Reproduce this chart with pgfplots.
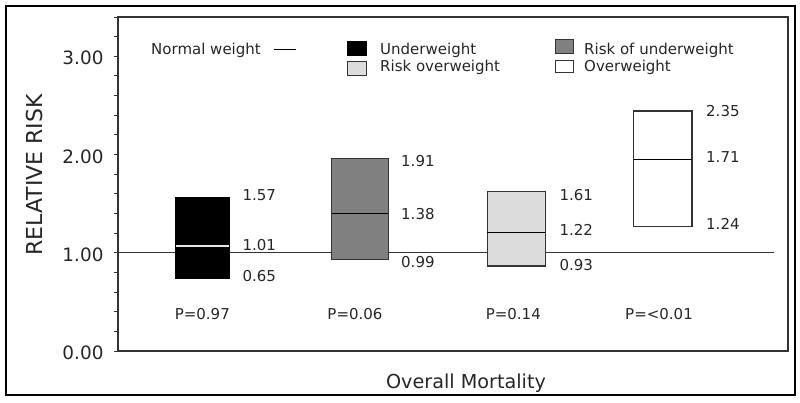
\documentclass[border=0pt]{standalone}
\usepackage{pgfplots}
\pgfplotsset{compat=1.18}
\usepackage{fontspec}
\setmainfont{DejaVu Sans}
\definecolor{axcol}{HTML}{333333}
\definecolor{midgray}{HTML}{808080}
\definecolor{lightgray}{HTML}{DCDCDC}
\begin{document}
\begin{tikzpicture}
\begin{axis}[
  name=ax,
  scale only axis,
  width=670pt, height=334pt,
  xmin=0, xmax=670, ymin=0, ymax=3.4,
  xtick=\empty,
  ytick={0,1,2,3},
  minor ytick={0.2,0.4,0.6,0.8,1.2,1.4,1.6,1.8,2.2,2.4,2.6,2.8,3.2,3.4},
  yticklabels={0.00,1.00,2.00,3.00},
  ytick pos=left,
  tick align=outside,
  major tick length=4pt, minor tick length=4pt,
  tick style={axcol, line width=1pt},
  axis line style={axcol, line width=1.3pt},
  /pgf/number format/assume math mode=true,
  yticklabel style={font=\fontsize{18.4}{20}\selectfont, text=black!85, yshift=-2pt, xshift=-7pt},
  clip=false,
]
% reference line (normal weight)
\addplot[axcol, line width=1.3pt] coordinates {(0,1) (656,1)};
% boxes
\addplot[draw=black, line width=1.2pt, fill=black] coordinates {(57.7,0.740) (111,0.740) (111,1.565) (57.7,1.565)} -- cycle;
\addplot[white!90!black, line width=1.2pt] coordinates {(57.7,1.069) (111,1.069)};
\addplot[draw=axcol, line width=1.2pt, fill=midgray] coordinates {(213.7,0.933) (270.3,0.933) (270.3,1.962) (213.7,1.962)} -- cycle;
\addplot[black, line width=1.2pt] coordinates {(213.7,1.402) (270.3,1.402)};
\addplot[draw=axcol, line width=1.2pt, fill=lightgray] coordinates {(369.3,0.865) (427.3,0.865) (427.3,1.622) (369.3,1.622)} -- cycle;
\addplot[black, line width=1.2pt] coordinates {(369.3,1.208) (427.3,1.208)};
\addplot[draw=axcol, line width=1.2pt, fill=white] coordinates {(515.7,1.265) (574,1.265) (574,2.443) (515.7,2.443)} -- cycle;
\addplot[black, line width=1.2pt] coordinates {(515.7,1.951) (574,1.951)};
% value labels
\begin{scope}[every node/.style={font=\fontsize{15}{18}\selectfont, text=black!85, inner sep=0pt, anchor=base west}]
\node at (axis cs:124.3,1.530) {1.57};
\node at (axis cs:124.3,1.021) {1.01};
\node at (axis cs:124.3,0.705) {0.65};
\node at (axis cs:283,1.876) {1.91};
\node at (axis cs:283,1.341) {1.38};
\node at (axis cs:283,0.848) {0.99};
\node at (axis cs:441.3,1.530) {1.61};
\node at (axis cs:441.3,1.174) {1.22};
\node at (axis cs:441.3,0.817) {0.93};
\node at (axis cs:588,2.389) {2.35};
\node at (axis cs:588,1.914) {1.71};
\node at (axis cs:588,1.232) {1.24};
\node[anchor=base] at (axis cs:84.3,0.323) {P=0.97};
\node[anchor=base] at (axis cs:237,0.323) {P=0.06};
\node[anchor=base] at (axis cs:395.3,0.323) {P=0.14};
\node[anchor=base] at (axis cs:541,0.323) {P=<0.01};
% legend
\node at (axis cs:33,3.020) {Normal weight};
\node at (axis cs:262,3.020) {Underweight};
\node at (axis cs:262,2.843) {Risk overweight};
\node at (axis cs:466,3.020) {Risk of underweight};
\node at (axis cs:466,2.843) {Overweight};
\end{scope}
\draw[black, line width=1pt] (axis cs:156,3.074) -- (axis cs:178,3.074);
\draw[black, line width=1pt, fill=black] (axis cs:229.3,3.006) rectangle (axis cs:248.7,3.148);
\draw[axcol, line width=1pt, fill=lightgray] (axis cs:229.3,2.809) rectangle (axis cs:248.7,2.952);
\draw[axcol, line width=1pt, fill=midgray] (axis cs:437.7,3.030) rectangle (axis cs:455.7,3.166);
\draw[axcol, line width=1pt, fill=white] (axis cs:437.7,2.833) rectangle (axis cs:455.7,2.962);
% axis titles
\node[font=\fontsize{22}{24}\selectfont, text=black!85, rotate=90, anchor=base, inner sep=0pt] at (axis cs:-75,1.792) {RELATIVE RISK};
\node[font=\fontsize{19.2}{22}\selectfont, text=black!85, anchor=base, inner sep=0pt] at (axis cs:348,-0.380) {Overall Mortality};
\end{axis}
\draw[black, line width=2pt] ([shift={(-112pt,-44pt)}]ax.south west) rectangle ([shift={(7pt,11pt)}]ax.north east);
\path ([shift={(-118pt,-51pt)}]ax.south west) rectangle ([shift={(12pt,17pt)}]ax.north east);
\end{tikzpicture}
\end{document}
